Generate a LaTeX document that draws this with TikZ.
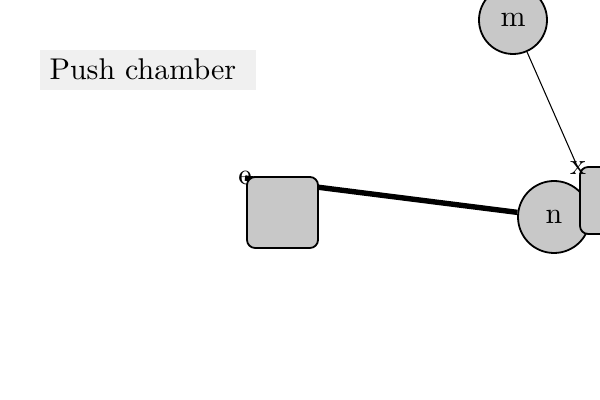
\documentclass[tikz,border=0pt]{standalone}
\usepackage{tikz}
\definecolor{nodegray}{RGB}{200,200,200}
\definecolor{labelbg}{RGB}{240,240,240}
\pgfdeclarelayer{background}
\pgfsetlayers{background,main}
\tikzset{
  ball/.style={circle, draw=black, line width=0.6pt, fill=nodegray, inner sep=0pt},
  blockbox/.style={rectangle, rounded corners=2.7pt, draw=black, line width=0.6pt, fill=nodegray, inner sep=0pt},
  tag/.style={inner sep=0pt},
}
\begin{document}
\begin{tikzpicture}[x=0.33333pt,y=-0.33333pt]
\useasboundingbox (0,0) rectangle (600,400);
\node[fill=labelbg, minimum width=72pt, minimum height=13.33pt, inner sep=0pt] (title) at (148,70) {};
\node[anchor=west, inner sep=0pt] (titletext) at (49,69) {Push chamber};
\node[tag] (e) at (245,178) {e};
\node[ball, minimum size=22.67pt] (m) at (513,20) {m};
\node[blockbox, minimum width=23.67pt, minimum height=23.67pt] (sq) at (282.5,212.5) {};
\node[ball, minimum size=24pt] (n) at (554,217) {n};
\node[blockbox, minimum width=20pt, minimum height=22.33pt] (r) at (610,200.5) {};
\node[tag] (x) at (578,168) {x};
\begin{pgfonlayer}{background}
\draw[line width=1.8pt] (e.center) -- (n);
\draw[line width=0.35pt] (m) -- (x.center);
\end{pgfonlayer}
\end{tikzpicture}
\end{document}
